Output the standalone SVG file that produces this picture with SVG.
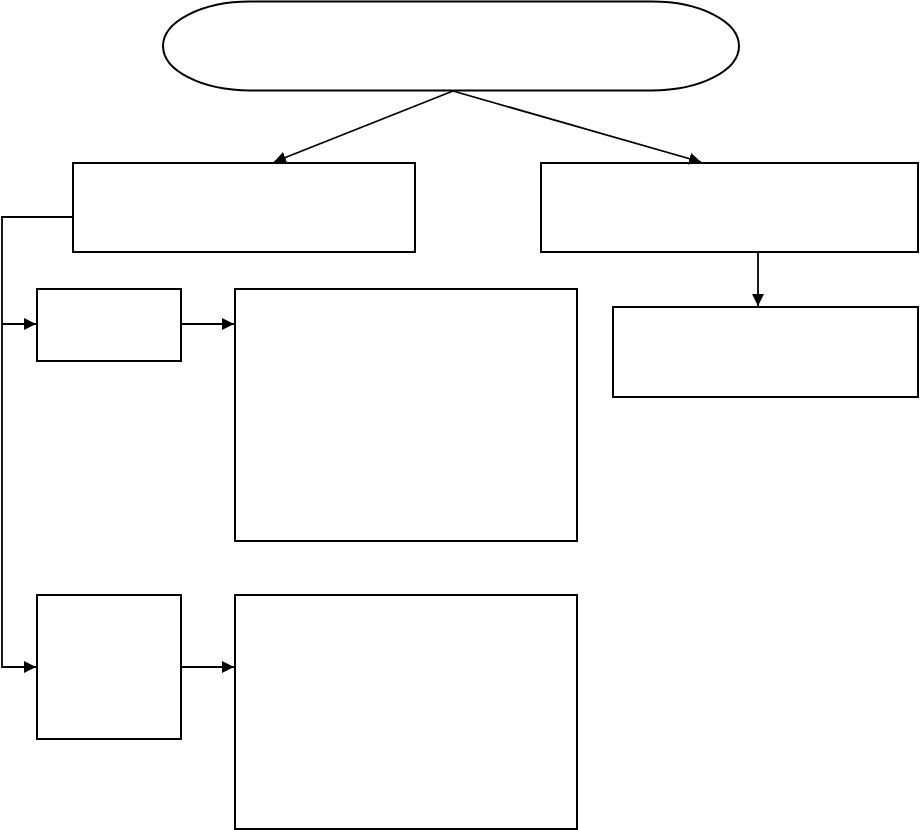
<svg xmlns="http://www.w3.org/2000/svg" width="920" height="830" viewBox="0 0 920 830">
<style>
.n{fill:#fff;stroke:#000;stroke-width:2}
.c{fill:none;stroke:#000;stroke-width:1.8}
</style>
<defs>
<marker id="a" viewBox="0 0 12 12" refX="12" refY="6" markerWidth="12" markerHeight="12" markerUnits="userSpaceOnUse" orient="auto">
<path d="M0,0 L12,6 L0,12 z" fill="#000"/>
</marker>
</defs>
<rect width="920" height="830" fill="#fff"/>
<g id="top"><rect class="n" x="163" y="1.5" width="576" height="89" rx="87" ry="44.5"/></g>
<g id="left"><rect class="n" x="73" y="163" width="342" height="89"/></g>
<g id="right"><rect class="n" x="541" y="163" width="377" height="89"/></g>
<g id="right2"><rect class="n" x="613" y="307" width="305" height="90"/></g>
<g id="small1"><rect class="n" x="37" y="289" width="144" height="72"/></g>
<g id="big1"><rect class="n" x="235" y="289" width="342" height="252"/></g>
<g id="small2"><rect class="n" x="37" y="595" width="144" height="144"/></g>
<g id="big2"><rect class="n" x="235" y="595" width="342" height="234"/></g>
<g id="connectors">
<path class="c" d="M453,91 L274,162" marker-end="url(#a)"/>
<path class="c" d="M453,91 L701,162" marker-end="url(#a)"/>
<path class="c" d="M758,252 L758,306" marker-end="url(#a)"/>
<path class="c" d="M73,217 L2,217 L2,667 L36,667" marker-end="url(#a)"/>
<path class="c" d="M2,324 L36,324" marker-end="url(#a)"/>
<path class="c" d="M181,324 L234,324" marker-end="url(#a)"/>
<path class="c" d="M181,667 L234,667" marker-end="url(#a)"/>
</g>
</svg>
